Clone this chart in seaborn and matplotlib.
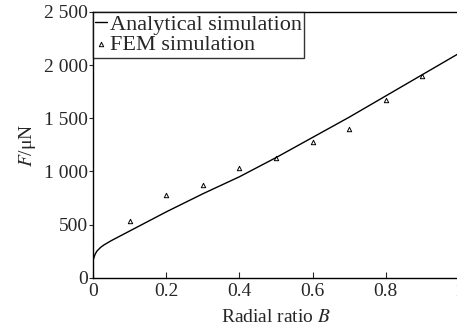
import numpy as np
import pandas as pd
import seaborn as sns
import matplotlib.pyplot as plt
from matplotlib.ticker import FuncFormatter

# Analytical curve
b_analytical = [0, 0.005, 0.01, 0.02, 0.03, 0.05, 0.1, 0.2, 0.3, 0.4, 0.5, 0.6, 0.7, 0.8, 0.9, 1.0]
f_analytical = [170, 220, 250, 285, 310, 350, 440, 620, 790, 950, 1130, 1320, 1510, 1710, 1910, 2110]

# FEM points
b_fem = [0.1, 0.2, 0.3, 0.4, 0.5, 0.6, 0.7, 0.8, 0.9]
f_fem = [538, 774, 868, 1028, 1123, 1274, 1396, 1670, 1896]

yticks = [0, 500, 1000, 1500, 2000, 2500]
xticks = [0, 0.2, 0.4, 0.6, 0.8, 1]

sns.set_style("ticks")
plt.rcParams['font.family'] = ['Liberation Serif', 'DejaVu Serif']
plt.rcParams['mathtext.fontset'] = 'stix'

ana_df = pd.DataFrame({"B": b_analytical, "F": f_analytical})
fem_df = pd.DataFrame({"B": b_fem, "F": f_fem})

fig = plt.figure(figsize=(4.57, 3.33), dpi=100)
ax = fig.add_axes([0.204, 0.166, 0.80, 0.798])

sns.lineplot(data=ana_df, x="B", y="F", ax=ax, color="black", linewidth=1.0,
             label="Analytical simulation")
sns.scatterplot(data=fem_df, x="B", y="F", ax=ax, marker="^", s=10,
                facecolor="white", edgecolor="black", linewidth=0.7,
                label="FEM simulation")

ax.set_xlim(0, 1)
ax.set_ylim(0, 2500)
ax.set_xticks(xticks)
ax.set_yticks(yticks)
ax.xaxis.set_major_formatter(FuncFormatter(lambda v, p: "0" if v == 0 else ("1" if v == 1 else f"{v:.1f}")))
ax.yaxis.set_major_formatter(FuncFormatter(lambda v, p: f"{int(v):,}".replace(",", " ")))
ax.tick_params(axis="x", direction="in", length=4, labelsize=14, pad=3.5)
ax.tick_params(axis="y", direction="out", length=3, labelsize=14, pad=1)
ax.tick_params(right=True, which="both")
for s in ax.spines.values():
    s.set_linewidth(1.0)
    s.set_color("black")

ax.set_xlabel("Radial ratio $\\it{B}$", fontsize=14, labelpad=7)
ax.set_ylabel("$\\it{F}$/μN", fontsize=14)

leg = ax.legend(loc="upper left", fontsize=16, frameon=True, fancybox=False,
                borderaxespad=0, borderpad=0.1, handlelength=0.5,
                handletextpad=0.15, labelspacing=0.0, markerscale=1.0)
leg.get_frame().set_edgecolor("black")
leg.get_frame().set_linewidth(1.0)

fig.savefig("out.png", dpi=100)
